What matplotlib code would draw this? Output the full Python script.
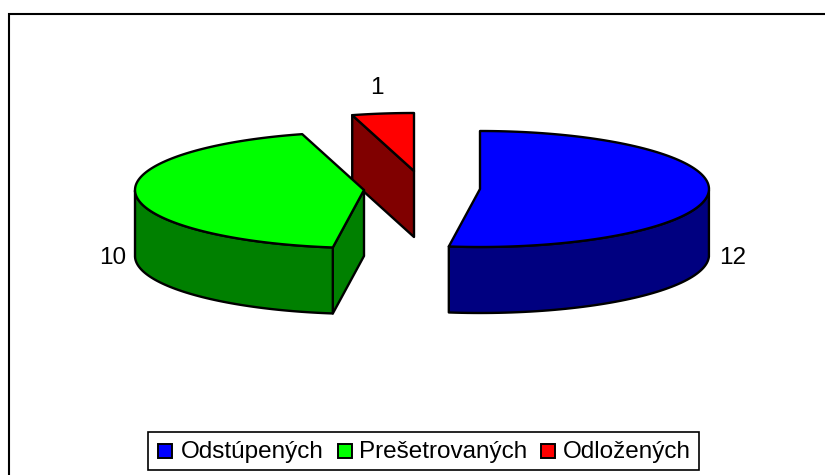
import numpy as np
import matplotlib
matplotlib.use('Agg')
import matplotlib.pyplot as plt
from matplotlib.patches import Polygon, Rectangle

labels = ['Odstúpených', 'Prešetrovaných', 'Odložených']
values = [12, 10, 1]
top_colors = ['#0000ff', '#00ff00', '#ff0000']
side_colors = ['#000080', '#008000', '#800000']

# pie centres on the picture, one per slice (exploded)
centers = [(480, 189), (364, 190), (414, 171)]
rx, ry = 229, 58
depth = 66

fig = plt.figure(figsize=(8.25, 4.75), dpi=100)
ax = fig.add_axes([0, 0, 1, 1])
ax.set_xlim(0, 825)
ax.set_ylim(475, 0)
ax.axis('off')


def point(c, a, dy=0):
    # a in degrees, clockwise from the top
    a = np.radians(a)
    return c[0] + rx * np.sin(a), c[1] - ry * np.cos(a) + dy


def wall_visible(c, a, mid):
    # a cut wall shows when the rest of the slice lies above its top edge
    p = point(c, a)
    m = point(c, mid)
    if abs(p[0] - c[0]) < 1:
        return False
    line_y = c[1] + (p[1] - c[1]) / (p[0] - c[0]) * (m[0] - c[0])
    return m[1] < line_y


def draw_slice(c, a0, a1, top, side):
    ang = np.linspace(a0, a1, 120)
    rim = np.array([point(c, a) for a in ang])
    mid = (a0 + a1) / 2
    kw = dict(edgecolor='black', linewidth=1.7, joinstyle='round')
    for a in (a0, a1):
        if wall_visible(c, a, mid):
            p = point(c, a)
            wall = [c, p, (p[0], p[1] + depth), (c[0], c[1] + depth)]
            ax.add_patch(Polygon(wall, closed=True, facecolor=side, **kw))
    # outer wall, only the part facing the viewer
    front = ang[(ang > 90) & (ang < 270)]
    if len(front):
        upper = np.array([point(c, a) for a in front])
        lower = upper + [0, depth]
        ax.add_patch(Polygon(np.vstack([upper, lower[::-1]]), closed=True, facecolor=side, **kw))
    ax.add_patch(Polygon(np.vstack([[c], rim]), closed=True, facecolor=top, **kw))


total = sum(values)
start = 0
spans = []
for v in values:
    spans.append((start, start + v / total * 360))
    start = spans[-1][1]

# the small red slice sits behind the green one
for i in [2, 1, 0]:
    draw_slice(centers[i], spans[i][0], spans[i][1], top_colors[i], side_colors[i])

# data labels
ax.text(733, 258.5, str(values[0]), fontsize=17.5, family='Liberation Sans', ha='center', va='center')
ax.text(113, 258.5, str(values[1]), fontsize=17.5, family='Liberation Sans', ha='center', va='center')
ax.text(377, 87.5, str(values[2]), fontsize=17.5, family='Liberation Sans', ha='center', va='center')

# chart frame
ax.plot([8.5, 8.5, 825], [475, 13.5, 13.5], color='black', lw=1.5, solid_joinstyle='miter')

# legend box
ax.add_patch(Rectangle((148, 432), 551, 38, facecolor='white', edgecolor='black', lw=1.2, zorder=5))
swatch_x = [158, 338, 541]
text_x = [181, 359, 563]
for sx, tx, lab, col in zip(swatch_x, text_x, labels, top_colors):
    ax.add_patch(Rectangle((sx, 444), 14, 14, facecolor=col, edgecolor='black', lw=1.4, zorder=6))
    ax.text(tx, 452, lab, fontsize=17.5, family='Liberation Sans', va='center', zorder=6)

fig.savefig('out.png', dpi=100)
